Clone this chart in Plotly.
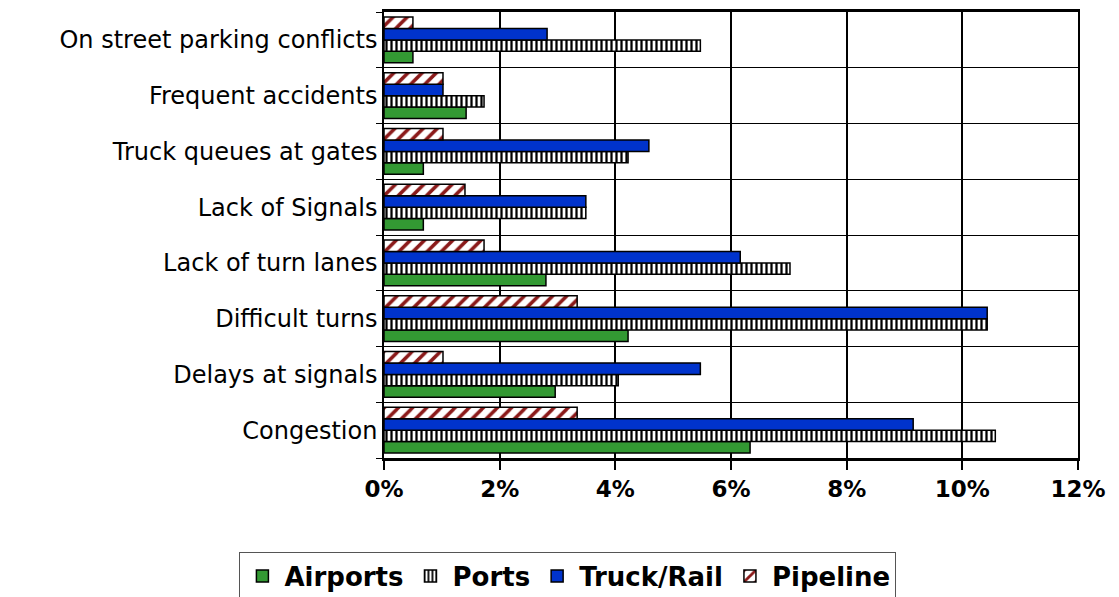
import plotly.graph_objects as go

# --- data (percent of responses) ---
categories = [
    "Congestion",
    "Delays at signals",
    "Difficult turns",
    "Lack of turn lanes",
    "Lack of Signals",
    "Truck queues at gates",
    "Frequent accidents",
    "On street parking conflicts",
]
airports = [6.33, 2.96, 4.22, 2.80, 0.68, 0.68, 1.42, 0.50]
ports = [10.57, 4.05, 10.43, 7.02, 3.49, 4.22, 1.73, 5.47]
truck_rail = [9.15, 5.47, 10.43, 6.16, 3.49, 4.58, 1.02, 2.82]
pipeline = [3.34, 1.02, 3.34, 1.73, 1.40, 1.02, 1.02, 0.50]

x_ticks = [0, 2, 4, 6, 8, 10, 12]

fig = go.Figure()

outline = dict(color="black", width=1.5)

fig.add_trace(go.Bar(
    y=categories, x=airports, name="Airports", orientation="h",
    marker=dict(color="#339933", line=outline),
))
fig.add_trace(go.Bar(
    y=categories, x=ports, name="Ports", orientation="h",
    marker=dict(color="white", line=outline,
                pattern=dict(shape="|", fgcolor="black", bgcolor="white",
                             size=5, solidity=0.45, fillmode="replace")),
))
fig.add_trace(go.Bar(
    y=categories, x=truck_rail, name="Truck/Rail", orientation="h",
    marker=dict(color="#0033CC", line=outline),
))
fig.add_trace(go.Bar(
    y=categories, x=pipeline, name="Pipeline", orientation="h",
    marker=dict(color="white", line=outline,
                pattern=dict(shape="/", fgcolor="#8B1A1A", bgcolor="white",
                             size=10, solidity=0.35, fillmode="replace")),
))

# page body adds an 8px offset, margins account for it
fig.update_layout(
    width=1119, height=597,
    barmode="group", bargap=0.18, bargroupgap=0,
    plot_bgcolor="white", paper_bgcolor="white",
    margin=dict(l=376, r=49, t=4, b=147, autoexpand=False),
    font=dict(family="DejaVu Sans, sans-serif", color="black"),
    showlegend=True,
    legend=dict(
        orientation="h", x=0.265, xanchor="center", y=-0.21, yanchor="top",
        font=dict(size=26, family="DejaVu Sans, sans-serif", weight="bold"),
        bordercolor="#555555", borderwidth=1, traceorder="normal",
        itemwidth=34,
    ),
)

fig.update_xaxes(
    range=[0, 12], tickvals=x_ticks,
    ticktext=[f"{v}%" for v in x_ticks],
    showgrid=True, gridcolor="black", gridwidth=1.5,
    showline=True, linecolor="black", linewidth=2.5, mirror=True,
    tickfont=dict(size=23, family="DejaVu Sans, sans-serif", weight="bold"),
    ticks="outside", ticklen=9, tickcolor="black", tickwidth=1.5,
    zeroline=False,
)
fig.update_yaxes(
    type="category", categoryorder="array", categoryarray=categories,
    tickson="boundaries", ticks="outside", ticklen=6, tickcolor="black",
    showgrid=True, gridcolor="black", gridwidth=1,
    showline=True, linecolor="black", linewidth=1.5, mirror=True,
    tickfont=dict(size=24, family="DejaVu Sans, sans-serif"),
    range=[-0.5, 7.5],
)

fig.write_html("out.html")
